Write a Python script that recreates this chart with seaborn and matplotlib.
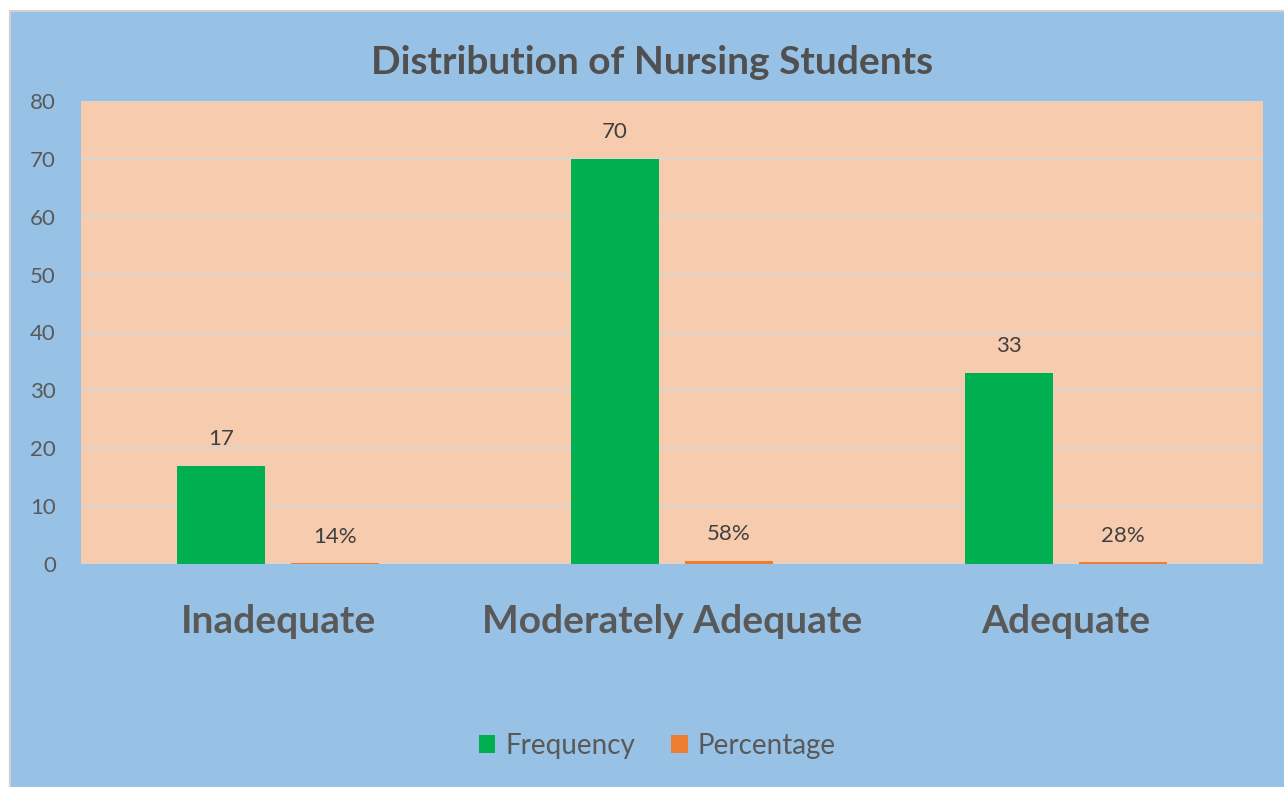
import matplotlib
matplotlib.use("Agg")
import matplotlib.pyplot as plt
from matplotlib.patches import Rectangle
import seaborn as sns
import pandas as pd

categories = ["Inadequate", "Moderately Adequate", "Adequate"]
frequency = [17, 70, 33]
percentage = [14, 58, 28]  # percent
series = ["Frequency", "Percentage"]
yticks = [0, 10, 20, 30, 40, 50, 60, 70, 80]

df = pd.DataFrame({
    "Category": categories * 2,
    "Series": [series[0]] * 3 + [series[1]] * 3,
    "Value": frequency + [p / 100 for p in percentage],
})

sns.set_theme(style="white")
plt.rcParams["font.family"] = ["Lato", "DejaVu Sans"]

W, H = 1284, 787
fig = plt.figure(figsize=(W / 100, H / 100), dpi=100, facecolor="white")
bg = Rectangle((10 / W, -0.01), 1.0, 1 - 11 / H + 0.01, transform=fig.transFigure,
               facecolor="#98C2E5", edgecolor="#D0D0D0", linewidth=1.5, zorder=-1)
fig.add_artist(bg)

ax = fig.add_axes([81 / W, 1 - 564 / H, (1263 - 81) / W, (564 - 101) / H])
ax.set_facecolor("#F6CBAE")

sns.barplot(data=df, x="Category", y="Value", hue="Series", order=categories,
            hue_order=series, palette=["#00B050", "#ED7D31"], width=0.58, gap=0.23,
            ax=ax, legend=True, saturation=1, linewidth=0)

ax.set_ylim(0, 80)
ax.set_yticks(yticks)
ax.grid(axis="y", color="#DCD6D0", linewidth=1.5)
ax.set_axisbelow(True)
for s in ax.spines.values():
    s.set_visible(False)
ax.tick_params(axis="y", length=0, pad=18, labelsize=16, labelcolor="#595959")
ax.tick_params(axis="x", length=0, pad=29, labelsize=28, labelcolor="#595959")
for lbl in ax.get_xticklabels():
    lbl.set_fontweight("bold")
ax.set_xlabel("")
ax.set_ylabel("")

conts = ax.containers
ax.bar_label(conts[0], labels=[str(v) for v in frequency], padding=12,
             fontsize=16, color="#404040")
ax.bar_label(conts[1], labels=[f"{p}%" for p in percentage], padding=12,
             fontsize=16, color="#404040")

fig.text(0.508, 1 - 62 / H, "Distribution of Nursing Students", ha="center", va="center",
         fontsize=28, fontweight="bold", color="#505050")

handles, labels = ax.get_legend_handles_labels()
ax.legend_.remove()
fig.legend(handles, labels, loc="center", bbox_to_anchor=(657 / W, 1 - 746 / H), ncol=2,
           frameon=False, fontsize=20, labelcolor="#595959", handlelength=0.6,
           handleheight=0.6, handletextpad=0.35, columnspacing=1.3)

fig.savefig("out.png", dpi=100, facecolor="white")
